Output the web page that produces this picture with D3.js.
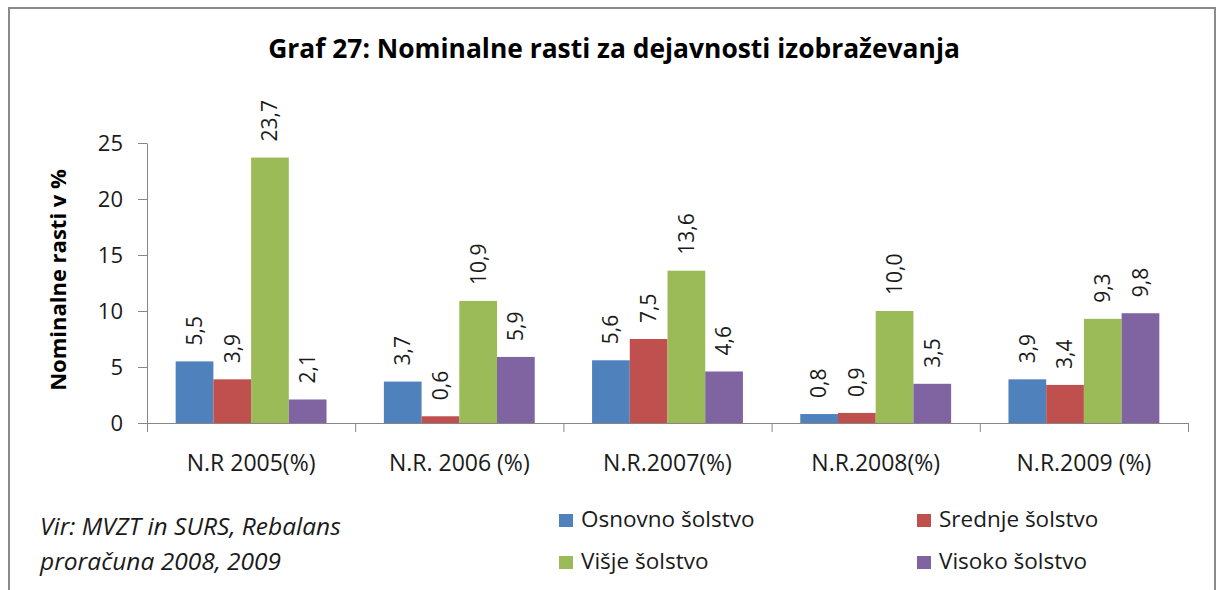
<!DOCTYPE html>
<html>
<head>
<meta charset="utf-8">
<script src="https://cdnjs.cloudflare.com/ajax/libs/d3/7.8.5/d3.min.js"></script>
<style>
  body { margin: 0; background: #fff; }
  svg { display: block; }
  text { font-family: "Open Sans", "Noto Sans", sans-serif; fill: #1a1a1a; }
</style>
</head>
<body>
<script>
// data
var categories = ["N.R 2005(%)", "N.R. 2006 (%)", "N.R.2007(%)", "N.R.2008(%)", "N.R.2009 (%)"];
var seriesNames = ["Osnovno šolstvo", "Srednje šolstvo", "Višje šolstvo", "Visoko šolstvo"];
var osnovno = [5.5, 3.7, 5.6, 0.8, 3.9];
var srednje = [3.9, 0.6, 7.5, 0.9, 3.4];
var visje   = [23.7, 10.9, 13.6, 10.0, 9.3];
var visoko  = [2.1, 5.9, 4.6, 3.5, 9.8];
var yTicks = [0, 5, 10, 15, 20, 25];
var colors = ["#4F81BD", "#C0504D", "#9BBB59", "#8064A2"];

var W = 1217, H = 590;
var plot = { left: 147, right: 1188, top: 143, bottom: 423 };

var allSeries = [osnovno, srednje, visje, visoko];
var rows = [];
categories.forEach(function(c, ci) {
	allSeries.forEach(function(s, si) {
		rows.push({ cat: c, name: seriesNames[si], value: s[ci], color: colors[si] });
	});
});

var svg = d3.select("body").append("svg")
	.attr("width", W)
	.attr("height", H);

// chart frame (bottom edge is below the visible area)
svg.append("rect")
	.attr("x", 9).attr("y", 8)
	.attr("width", 1206).attr("height", 640)
	.attr("fill", "none")
	.attr("stroke", "#8a8a8a")
	.attr("stroke-width", 2);

svg.append("text")
	.attr("x", 614).attr("y", 58)
	.attr("text-anchor", "middle")
	.style("font-size", "26.4px")
	.style("font-weight", "bold")
	.style("fill", "#000")
	.text("Graf 27: Nominalne rasti za dejavnosti izobraževanja");

var x0 = d3.scaleBand()
	.domain(categories)
	.range([plot.left, plot.right])
	.padding(0);

var x1 = d3.scaleBand()
	.domain(seriesNames)
	.range([0, x0.bandwidth()])
	.paddingInner(0)
	.paddingOuter(0.76);

var y = d3.scaleLinear()
	.domain([0, 25])
	.range([plot.bottom, plot.top]);

// y axis
var yAxis = svg.append("g")
	.attr("transform", "translate(" + plot.left + ",0)")
	.call(d3.axisLeft(y).tickValues(yTicks).tickSize(9).tickSizeOuter(0).tickPadding(15));
yAxis.selectAll("path, line").attr("stroke", "#868686");
yAxis.selectAll("text")
	.style("font-size", "22px")
	.attr("fill", "#1a1a1a");

// x axis: boundary ticks
var xEdge = d3.scaleLinear().domain([0, categories.length]).range([plot.left, plot.right]);
var xAxis = svg.append("g")
	.attr("transform", "translate(0," + plot.bottom + ")")
	.call(d3.axisBottom(xEdge).tickValues(d3.range(categories.length + 1)).tickSize(9).tickSizeOuter(0).tickFormat(""));
xAxis.selectAll("path, line").attr("stroke", "#868686");

// x axis: category labels
var xLabels = svg.append("g")
	.attr("transform", "translate(0," + plot.bottom + ")")
	.call(d3.axisBottom(x0).tickSize(0).tickPadding(32));
xLabels.select(".domain").remove();
xLabels.selectAll("text")
	.style("font-size", "23px")
	.attr("fill", "#1a1a1a");

// bars
svg.append("g").selectAll("rect")
	.data(rows)
	.enter().append("rect")
	.attr("x", function(d) { return x0(d.cat) + x1(d.name); })
	.attr("y", function(d) { return y(d.value); })
	.attr("width", x1.bandwidth())
	.attr("height", function(d) { return y(0) - y(d.value); })
	.attr("fill", function(d) { return d.color; });

// value labels, rotated
var fmt = function(v) { return d3.format(".1f")(v).replace(".", ","); };
svg.append("g").selectAll("text")
	.data(rows)
	.enter().append("text")
	.attr("transform", function(d) {
		var cx = x0(d.cat) + x1(d.name) + x1.bandwidth() / 2;
		return "translate(" + cx + "," + (y(d.value) - 16) + ")rotate(-90)";
	})
	.attr("dy", "0.35em")
	.attr("text-anchor", "start")
	.style("font-size", "21px")
	.text(function(d) { return fmt(d.value); });

// y axis title
svg.append("text")
	.attr("transform", "translate(66," + 280 + ")rotate(-90)")
	.attr("text-anchor", "middle")
	.style("font-size", "22px")
	.style("font-weight", "bold")
	.style("fill", "#000")
	.text("Nominalne rasti v %");

// source note
var note = svg.append("text")
	.style("font-size", "24.5px")
	.style("font-style", "italic")
	.attr("fill", "#1a1a1a");
note.append("tspan").attr("x", 40).attr("y", 535).text("Vir: MVZT in SURS, Rebalans");
note.append("tspan").attr("x", 40).attr("y", 570).text("proračuna 2008, 2009");

// legend
var legendPos = [[559, 520], [917, 520], [559, 562], [917, 562]];
var legend = svg.append("g").selectAll("g")
	.data(seriesNames)
	.enter().append("g")
	.attr("transform", function(d, i) { return "translate(" + legendPos[i][0] + "," + legendPos[i][1] + ")"; });
legend.append("rect")
	.attr("x", 0).attr("y", -6)
	.attr("width", 14).attr("height", 13)
	.attr("fill", function(d, i) { return colors[i]; });
legend.append("text")
	.attr("x", 22)
	.attr("y", 7)
	.style("font-size", "22.5px")
	.text(function(d) { return d; });
</script>
</body>
</html>
